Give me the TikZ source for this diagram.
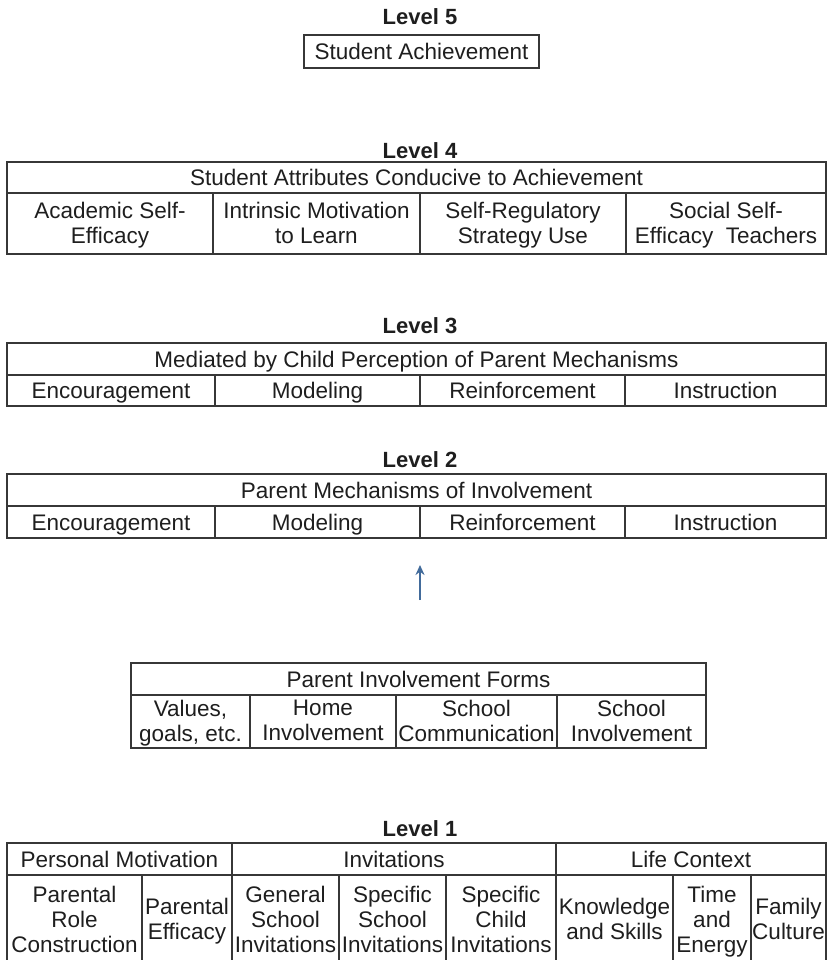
\documentclass[tikz,border=0pt]{standalone}
\usepackage{fontspec}
\setmainfont{Liberation Sans}
\usetikzlibrary{calc,arrows.meta}
\definecolor{linegray}{RGB}{55,55,55}
\definecolor{textgray}{RGB}{30,30,30}
\definecolor{arrowblue}{RGB}{66,107,155}
\tikzset{
  tabline/.style={draw=linegray, line width=1.3pt},
  celltext/.style={align=center, inner sep=0pt, text=textgray, yshift=-3pt,
    font=\fontsize{22.5}{25}\selectfont,
    execute at begin node=\strut, execute at end node=\strut},
  leveltitle/.style={inner sep=0pt, text=textgray, font=\fontsize{22}{25}\selectfont\bfseries}
}
% cell: [node options]{name}{x1}{y1}{x2}{y2}{text}
\newcommand{\tablecell}[7][]{
  \draw[tabline] (#3,#4) rectangle (#5,#6);
  \node[celltext,#1] (#2) at ($(#3,#4)!.5!(#5,#6)$) {#7};
}

\begin{document}
\begin{tikzpicture}[x=1pt,y=-1pt]
\useasboundingbox (0,0) rectangle (830,960);
% Level 5
\node[leveltitle] (lvfive) at (420,17) {Level 5};
\tablecell{achieve}{304}{35}{539}{68}{Student Achievement}
% Level 4
\node[leveltitle] (lvfour) at (420,151) {Level 4};
\tablecell{lvfourhead}{7}{162}{826}{193}{Student Attributes Conducive to Achievement}
\tablecell{academic}{7}{193}{213}{254}{Academic Self-\\Efficacy}
\tablecell{intrinsic}{213}{193}{420}{254}{Intrinsic Motivation\\to Learn}
\tablecell{selfreg}{420}{193}{626}{254}{Self-Regulatory\\Strategy Use}
\tablecell{social}{626}{193}{826}{254}{Social Self-\\Efficacy\ \ Teachers}
% Level 3
\node[leveltitle] (lvthree) at (420,326) {Level 3};
\tablecell{lvthreehead}{7}{343}{826}{375}{Mediated by Child Perception of Parent Mechanisms}
\tablecell{encthree}{7}{375}{215}{406}{Encouragement}
\tablecell{modthree}{215}{375}{420}{406}{Modeling}
\tablecell{reithree}{420}{375}{625}{406}{Reinforcement}
\tablecell{insthree}{625}{375}{826}{406}{Instruction}
% Level 2
\node[leveltitle] (lvtwo) at (420,460) {Level 2};
\tablecell{lvtwohead}{7}{474}{826}{506}{Parent Mechanisms of Involvement}
\tablecell{enctwo}{7}{506}{215}{538}{Encouragement}
\tablecell{modtwo}{215}{506}{420}{538}{Modeling}
\tablecell{reitwo}{420}{506}{625}{538}{Reinforcement}
\tablecell{instwo}{625}{506}{826}{538}{Instruction}
\coordinate (arrowfoot) at (420,600);
\coordinate (arrowtip) at (420,565);
\draw[arrowblue, line width=2.5pt, -{Stealth[length=10pt,width=9pt]}] (arrowfoot) -- (arrowtip);
% forms
\tablecell{formshead}{131}{663}{706}{695}{Parent Involvement Forms}
\tablecell{values}{131}{695}{250}{748}{Values,\\goals, etc.}
\tablecell{home}{250}{695}{396}{748}{Home\\Involvement}
\tablecell{schoolcom}{396}{695}{557}{748}{School\\Communication}
\tablecell{schoolinv}{557}{695}{706}{748}{School\\Involvement}
% Level 1
\node[leveltitle] (lvone) at (420,829) {Level 1};
\tablecell{personal}{7}{843}{232}{875}{Personal Motivation}
\tablecell{invite}{232}{843}{556}{875}{Invitations}
\tablecell{life}{556}{843}{826}{875}{Life Context}
\tablecell{role}{7}{875}{142}{965}{Parental\\Role\\Construction}
\tablecell{efficacy}{142}{875}{232}{965}{Parental\\Efficacy}
\tablecell{general}{232}{875}{339}{965}{General\\School\\Invitations}
\tablecell{specschool}{339}{875}{446}{965}{Specific\\School\\Invitations}
\tablecell{specchild}{446}{875}{556}{965}{Specific\\Child\\Invitations}
\tablecell{knowledge}{556}{875}{673}{965}{Knowledge\\and Skills}
\tablecell{time}{673}{875}{751}{965}{Time\\and\\Energy}
\tablecell{family}{751}{875}{826}{965}{Family\\Culture}
\end{tikzpicture}
\end{document}
